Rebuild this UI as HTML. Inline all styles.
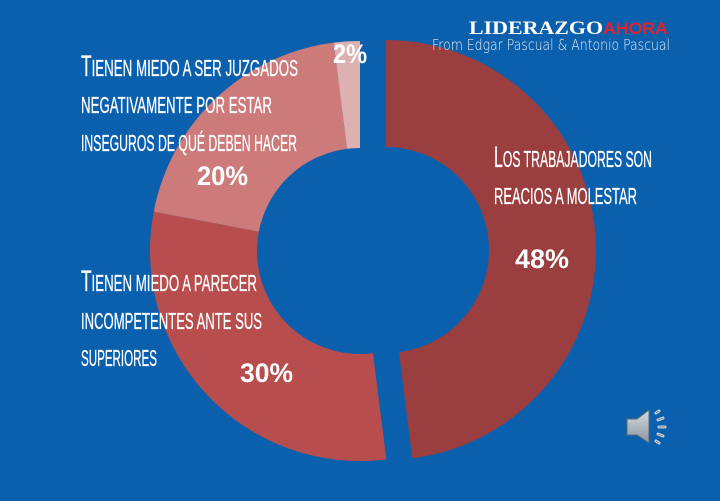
<!DOCTYPE html>
<html>
<head>
<meta charset="utf-8">
<style>
  html,body{margin:0;padding:0;background:#0B60AE;}
  body{width:720px;height:501px;overflow:hidden;}
  svg{display:block;}
  .lbl{font-family:"Liberation Sans Narrow","Liberation Sans",sans-serif;text-transform:uppercase;fill:#FFFFFF;font-size:23px;stroke:#FFFFFF;stroke-width:0.3;}
  .big{font-size:30px;}
  .pct{font-family:"Liberation Sans",sans-serif;font-weight:bold;fill:#FFFFFF;font-size:27px;}
</style>
</head>
<body>
<svg width="720" height="501" viewBox="0 0 720 501" xmlns="http://www.w3.org/2000/svg">
  <defs>
    <linearGradient id="spk" x1="0" y1="0" x2="0" y2="1">
      <stop offset="0" stop-color="#D5DBE1"/>
      <stop offset="1" stop-color="#8A949D"/>
    </linearGradient>
  </defs>
  <rect x="0" y="0" width="720" height="501" fill="#0B60AE"/>

  <!-- donut segments -->
  <path d="M386,40 A210,210 0 0 1 412.32,458.34 L398.91,352.19 A103,103 0 0 0 386,147 Z" fill="#9A3E3F"/>
  <path d="M386.32,459.34 A210,210 0 0 1 153.72,211.65 L258.82,231.70 A103,103 0 0 0 372.91,353.19 Z" fill="#B84D4D"/>
  <path d="M153.72,211.65 A210,210 0 0 1 333.68,42.66 L347.09,148.81 A103,103 0 0 0 258.82,231.70 Z" fill="#CC7A7A"/>
  <path d="M333.68,42.66 A210,210 0 0 1 360,41 L360,148 A103,103 0 0 0 347.09,148.81 Z" fill="#DDB1B2"/>

  <!-- category labels -->
  <text class="lbl" x="81" y="76" textLength="217" lengthAdjust="spacingAndGlyphs"><tspan class="big">T</tspan>ienen miedo a ser juzgados</text>
  <text class="lbl" x="81" y="113" textLength="191" lengthAdjust="spacingAndGlyphs">negativamente por estar</text>
  <text class="lbl" x="81" y="151" textLength="216" lengthAdjust="spacingAndGlyphs">inseguros de qué deben hacer</text>

  <text class="lbl" x="81" y="291" textLength="176" lengthAdjust="spacingAndGlyphs"><tspan class="big">T</tspan>ienen miedo a parecer</text>
  <text class="lbl" x="81" y="329" textLength="181" lengthAdjust="spacingAndGlyphs">incompetentes ante sus</text>
  <text class="lbl" x="81" y="366" textLength="76" lengthAdjust="spacingAndGlyphs">superiores</text>

  <text class="lbl" x="494" y="167" textLength="158" lengthAdjust="spacingAndGlyphs"><tspan class="big">L</tspan>os trabajadores son</text>
  <text class="lbl" x="494" y="204" textLength="143" lengthAdjust="spacingAndGlyphs">reacios a molestar</text>

  <!-- percentages -->
  <text class="pct" x="333" y="63" textLength="34" lengthAdjust="spacingAndGlyphs">2%</text>
  <text class="pct" x="197" y="185" textLength="51" lengthAdjust="spacingAndGlyphs">20%</text>
  <text class="pct" x="240" y="382" textLength="53" lengthAdjust="spacingAndGlyphs">30%</text>
  <text class="pct" x="515" y="268" textLength="54" lengthAdjust="spacingAndGlyphs">48%</text>

  <!-- logo -->
  <text x="469" y="34" textLength="134" lengthAdjust="spacingAndGlyphs" font-family="Liberation Serif, serif" font-weight="bold" font-size="19" fill="#FFFFFF">LIDERAZGO</text>
  <text x="603" y="34" textLength="65" lengthAdjust="spacingAndGlyphs" font-family="Liberation Sans, sans-serif" font-weight="bold" font-size="17" fill="#E5222B">AHORA</text>
  <text x="432" y="50" textLength="238" lengthAdjust="spacingAndGlyphs" font-family="DejaVu Sans, Liberation Sans, sans-serif" font-weight="200" font-size="15" fill="#E6ECF3">From Edgar Pascual &amp; Antonio Pascual</text>

  <!-- speaker icon -->
  <g>
    <path d="M627,419 L637,419 L649,410 L649,443 L637,435 L627,435 Z" fill="url(#spk)" stroke="#5E6770" stroke-width="1"/>
    <g stroke="#C9D0D7" stroke-width="3" stroke-linecap="round" fill="none">
      <line x1="656" y1="413" x2="659" y2="411"/>
      <line x1="658" y1="420" x2="663" y2="418"/>
      <line x1="659" y1="427" x2="665" y2="427"/>
      <line x1="658" y1="434" x2="663" y2="436"/>
      <line x1="656" y1="441" x2="659" y2="443"/>
    </g>
    <g stroke="#5E6770" stroke-width="0.6" fill="none">
      <line x1="656" y1="413" x2="659" y2="411"/>
      <line x1="658" y1="420" x2="663" y2="418"/>
      <line x1="659" y1="427" x2="665" y2="427"/>
      <line x1="658" y1="434" x2="663" y2="436"/>
      <line x1="656" y1="441" x2="659" y2="443"/>
    </g>
  </g>
</svg>
</body>
</html>
